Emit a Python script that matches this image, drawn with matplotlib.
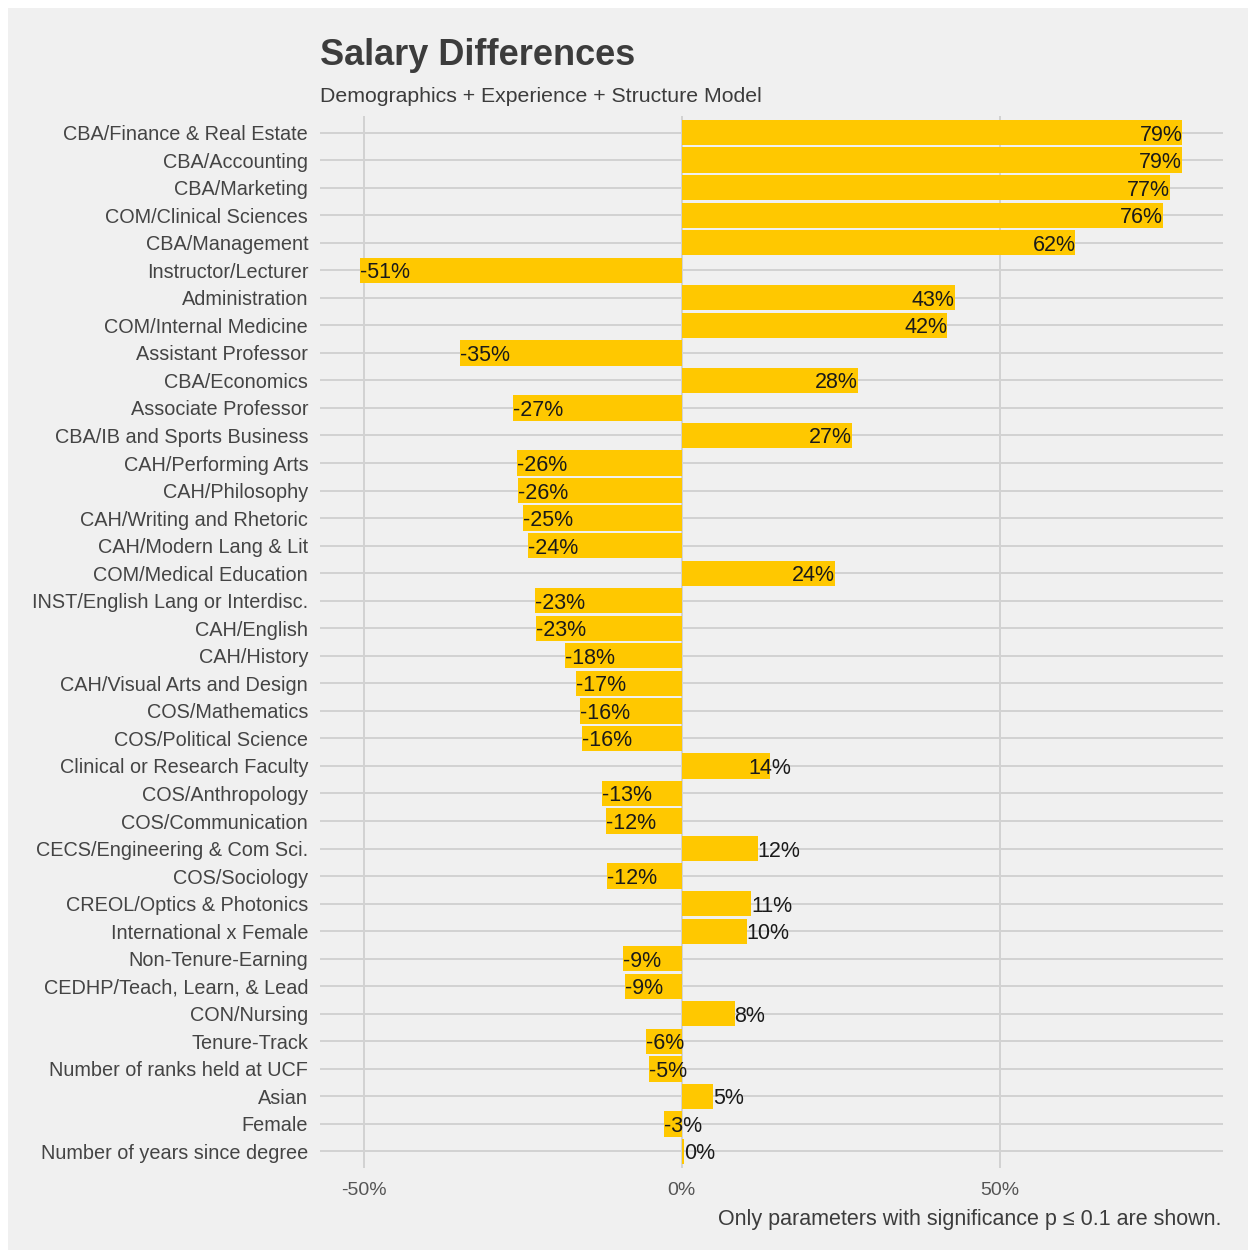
import matplotlib.pyplot as plt
from matplotlib.patches import Rectangle

plt.rcParams['font.family'] = ['Liberation Sans', 'DejaVu Sans']

# 参数名称与对应的薪资差异（%）
categories = [
    "CBA/Finance & Real Estate", "CBA/Accounting", "CBA/Marketing",
    "COM/Clinical Sciences", "CBA/Management", "Instructor/Lecturer",
    "Administration", "COM/Internal Medicine", "Assistant Professor",
    "CBA/Economics", "Associate Professor", "CBA/IB and Sports Business",
    "CAH/Performing Arts", "CAH/Philosophy", "CAH/Writing and Rhetoric",
    "CAH/Modern Lang & Lit", "COM/Medical Education",
    "INST/English Lang or Interdisc.", "CAH/English", "CAH/History",
    "CAH/Visual Arts and Design", "COS/Mathematics", "COS/Political Science",
    "Clinical or Research Faculty", "COS/Anthropology", "COS/Communication",
    "CECS/Engineering & Com Sci.", "COS/Sociology", "CREOL/Optics & Photonics",
    "International x Female", "Non-Tenure-Earning",
    "CEDHP/Teach, Learn, & Lead", "CON/Nursing", "Tenure-Track",
    "Number of ranks held at UCF", "Asian", "Female",
    "Number of years since degree",
]
values = [
    78.7, 78.6, 76.7, 75.6, 61.9, -50.6, 42.9, 41.7, -34.9, 27.7,
    -26.6, 26.8, -25.9, -25.8, -25.0, -24.2, 24.1, -23.1, -22.9, -18.4,
    -16.7, -16.0, -15.7, 13.8, -12.6, -12.0, 11.9, -11.7, 10.9, 10.2,
    -9.3, -9.0, 8.3, -5.6, -5.2, 4.9, -2.8, 0.4,
]
x_ticks = [-50, 0, 50]
x_tick_labels = ["-50%", "0%", "50%"]

bg = "#F0F0F0"
grid_color = "#D2D2D2"
bar_color = "#FFC800"

fig = plt.figure(figsize=(12.5, 12.52), dpi=100)
fig.patch.set_facecolor("white")
# 灰色背景面板（四周留一圈白边）
fig.patches.append(Rectangle((8 / 1250, 2 / 1252), 1240 / 1250, 1242 / 1252,
                             transform=fig.transFigure, facecolor=bg,
                             edgecolor="none", zorder=-10))

ax = fig.add_axes([0.256, 0.0671, 0.7224, 0.8402])
ax.set_facecolor(bg)

ypos = list(range(len(categories)))
ax.barh(ypos, values, height=0.92, color=bar_color, zorder=2)

# 数值标签：负值从条形末端向右写，大的正值写在条形内部
for y, v in zip(ypos, values):
    if v < 0:
        ha = "left"
    elif v >= 20:
        ha = "right"
    elif v >= 13:
        ha = "center"
    else:
        ha = "left"
    ax.text(v, y, f"{round(v)}%", ha=ha, va="center_baseline",
            fontsize=15.5, color="#1a1a1a", zorder=3)

ax.set_xlim(-56.9, 85.1)
ax.set_ylim(len(categories) - 0.4, -0.6)
ax.set_yticks(ypos)
ax.set_yticklabels(categories)
ax.set_xticks(x_ticks)
ax.set_xticklabels(x_tick_labels)

ax.tick_params(axis="y", length=0, pad=8.5, labelsize=14.3, labelcolor="#444444")
ax.tick_params(axis="x", length=0, pad=10, labelsize=14, labelcolor="#555555")

ax.grid(True, color=grid_color, linewidth=1.4, zorder=0)
ax.set_axisbelow(True)
for s in ax.spines.values():
    s.set_visible(False)

fig.text(0.256, 0.948, "Salary Differences", fontsize=26, fontweight="bold",
         color="#3C3C3C", ha="left", va="baseline")
fig.text(0.256, 0.9185, "Demographics + Experience + Structure Model",
         fontsize=15.3, color="#3C3C3C", ha="left", va="baseline")
fig.text(0.9776, 0.0216, "Only parameters with significance p ≤ 0.1 are shown.",
         fontsize=15.5, color="#3C3C3C", ha="right", va="baseline")

plt.savefig("out.png", dpi=100, facecolor=fig.get_facecolor())
